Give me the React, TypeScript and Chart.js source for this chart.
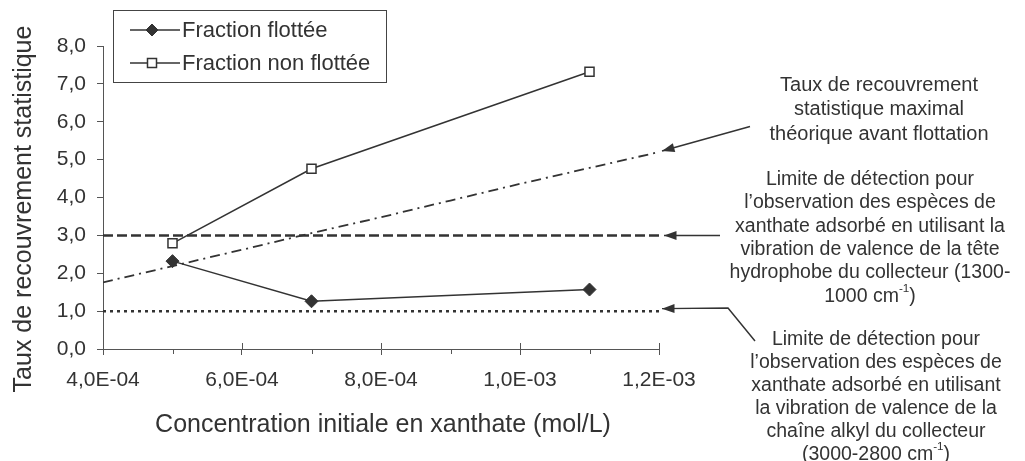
import React, { useEffect, useRef } from 'react';
import { Chart, registerables } from 'chart.js';

Chart.register(...registerables);

// ---- data ----
const concentrations = [5e-4, 7e-4, 1.1e-3];
const fractionFlottee = [2.32, 1.26, 1.57];
const fractionNonFlottee = [2.79, 4.76, 7.32];

const theoryX = [4e-4, 5e-4, 6e-4, 7e-4, 8e-4, 9e-4, 1.0e-3, 1.1e-3, 1.2e-3];
const theoryY = [1.76, 2.19, 2.62, 3.06, 3.48, 3.92, 4.36, 4.78, 5.2];

const limitX = [4e-4, 1.2e-3];
const limitTete = [3.0, 3.0];
const limitAlkyl = [1.0, 1.0];

const xTickValues = [4e-4, 6e-4, 8e-4, 1.0e-3, 1.2e-3];
const xTickLabels = ['4,0E-04', '6,0E-04', '8,0E-04', '1,0E-03', '1,2E-03'];
const xMinorTicks = [5e-4, 7e-4, 9e-4, 1.1e-3];
const yTickValues = [0, 1, 2, 3, 4, 5, 6, 7, 8];
const yTickLabels = ['0,0', '1,0', '2,0', '3,0', '4,0', '5,0', '6,0', '7,0', '8,0'];

const seriesNames = ['Fraction flottée', 'Fraction non flottée'];
const xTitle = 'Concentration initiale en xanthate (mol/L)';
const yTitle = 'Taux de recouvrement statistique';

const noteTheory = ['Taux de recouvrement', 'statistique maximal', 'théorique avant flottation'];
const noteTete = [
  'Limite de détection pour',
  'l’observation des espèces de',
  'xanthate adsorbé en utilisant la',
  'vibration de valence de la tête',
  'hydrophobe du collecteur (1300-',
  '1000 cm^-1^)',
];
const noteAlkyl = [
  'Limite de détection pour',
  'l’observation des espèces de',
  'xanthate adsorbé en utilisant',
  'la vibration de valence de la',
  'chaîne alkyl du collecteur',
  '(3000-2800 cm^-1^)',
];

const FONT = '"Liberation Sans", Arial, Helvetica, sans-serif';
const INK = '#333333';
const AXIS = '#555555';

function drawRichLine(ctx: CanvasRenderingContext2D, line: string, cx: number, cy: number, size: number) {
  const parts = line.split('^');
  const supSize = size * 0.6;
  let total = 0;
  const widths = parts.map((p, i) => {
    ctx.font = `${i % 2 ? supSize : size}px ${FONT}`;
    const w = ctx.measureText(p).width;
    total += w;
    return w;
  });
  let x = cx - total / 2;
  ctx.textAlign = 'left';
  ctx.textBaseline = 'middle';
  parts.forEach((p, i) => {
    const sup = i % 2 === 1;
    ctx.font = `${sup ? supSize : size}px ${FONT}`;
    ctx.fillText(p, x, sup ? cy - size * 0.38 : cy);
    x += widths[i];
  });
}

function drawArrow(ctx: CanvasRenderingContext2D, pts: number[][]) {
  ctx.beginPath();
  ctx.moveTo(pts[0][0], pts[0][1]);
  for (let i = 1; i < pts.length; i++) ctx.lineTo(pts[i][0], pts[i][1]);
  ctx.stroke();
  const [tx, ty] = pts[0];
  const [fx, fy] = pts[1];
  const ang = Math.atan2(ty - fy, tx - fx);
  const len = 12.5;
  const half = 4.5;
  ctx.beginPath();
  ctx.moveTo(tx, ty);
  ctx.lineTo(tx - len * Math.cos(ang) + half * Math.sin(ang), ty - len * Math.sin(ang) - half * Math.cos(ang));
  ctx.lineTo(tx - len * Math.cos(ang) - half * Math.sin(ang), ty - len * Math.sin(ang) + half * Math.cos(ang));
  ctx.closePath();
  ctx.fill();
}

const decorPlugin = {
  id: 'decor',
  afterDraw(chart: any) {
    const ctx: CanvasRenderingContext2D = chart.ctx;
    const xs = chart.scales.x;
    const ys = chart.scales.y;
    const area = chart.chartArea;
    ctx.save();

    // tick marks: minor outward, major crossing inward
    ctx.strokeStyle = AXIS;
    ctx.lineWidth = 1;
    ctx.beginPath();
    xMinorTicks.forEach((v) => {
      const px = Math.round(xs.getPixelForValue(v)) + 0.5;
      ctx.moveTo(px, area.bottom);
      ctx.lineTo(px, area.bottom + 5);
    });
    xTickValues.forEach((v) => {
      const px = Math.round(xs.getPixelForValue(v)) + 0.5;
      ctx.moveTo(px, area.bottom - 6);
      ctx.lineTo(px, area.bottom);
    });
    ctx.stroke();

    ctx.fillStyle = INK;
    // axis titles
    ctx.font = `25px ${FONT}`;
    ctx.textAlign = 'center';
    ctx.textBaseline = 'middle';
    ctx.fillText(xTitle, 383, 425);
    ctx.save();
    ctx.translate(24, 209);
    ctx.rotate(-Math.PI / 2);
    ctx.fillText(yTitle, 0, 0);
    ctx.restore();

    // legend
    ctx.strokeStyle = '#444';
    ctx.lineWidth = 1;
    ctx.strokeRect(113.5, 10.5, 273, 72);
    const rows = [30, 63];
    chart.data.datasets.slice(0, 2).forEach((ds: any, i: number) => {
      const y = rows[i];
      ctx.strokeStyle = ds.borderColor;
      ctx.lineWidth = ds.borderWidth;
      ctx.beginPath();
      ctx.moveTo(130, y);
      ctx.lineTo(180, y);
      ctx.stroke();
      ctx.fillStyle = ds.pointBackgroundColor;
      ctx.strokeStyle = ds.pointBorderColor;
      ctx.lineWidth = ds.pointBorderWidth;
      if (ds.pointStyle === 'rectRot') {
        ctx.beginPath();
        ctx.moveTo(152, y - 6);
        ctx.lineTo(158, y);
        ctx.lineTo(152, y + 6);
        ctx.lineTo(146, y);
        ctx.closePath();
        ctx.fill();
        ctx.stroke();
      } else {
        ctx.fillRect(147.5, y - 4.5, 9, 9);
        ctx.strokeRect(147.5, y - 4.5, 9, 9);
      }
      ctx.fillStyle = INK;
      ctx.font = `22px ${FONT}`;
      ctx.textAlign = 'left';
      ctx.textBaseline = 'middle';
      ctx.fillText(ds.label, 182, y + 1);
    });

    // notes
    ctx.fillStyle = INK;
    noteTheory.forEach((l, i) => drawRichLine(ctx, l, 879, 85 + i * 24.5, 20));
    noteTete.forEach((l, i) => drawRichLine(ctx, l, 870, 179.5 + i * 23.4, 19.5));
    noteAlkyl.forEach((l, i) => drawRichLine(ctx, l, 876, 339.5 + i * 23, 19.5));

    // arrows
    ctx.strokeStyle = INK;
    ctx.fillStyle = INK;
    ctx.lineWidth = 1.5;
    const tipX = xs.getPixelForValue(limitX[1]) + 3;
    const yTheory = ys.getPixelForValue(theoryY[theoryY.length - 1]);
    drawArrow(ctx, [[tipX, yTheory - 1], [750, 126.5]]);
    const yTete = ys.getPixelForValue(limitTete[1]);
    drawArrow(ctx, [[tipX + 2, yTete], [720, yTete]]);
    const yAlkyl = ys.getPixelForValue(limitAlkyl[1]) - 2.5;
    drawArrow(ctx, [[tipX, yAlkyl], [728, yAlkyl - 0.5], [755, 341]]);

    ctx.restore();
  },
};

export default function App() {
  const ref = useRef<HTMLCanvasElement | null>(null);
  useEffect(() => {
    if (!ref.current) return;
    const tickFont = { family: FONT, size: 21 };
    const chart = new Chart(ref.current, {
      type: 'line',
      data: {
        datasets: [
          {
            label: seriesNames[0],
            data: concentrations.map((x, i) => ({ x, y: fractionFlottee[i] })),
            borderColor: INK,
            borderWidth: 1.5,
            pointStyle: 'rectRot',
            pointRadius: 6.5,
            pointBackgroundColor: INK,
            pointBorderColor: INK,
            pointBorderWidth: 1,
            tension: 0,
          },
          {
            label: seriesNames[1],
            data: concentrations.map((x, i) => ({ x, y: fractionNonFlottee[i] })),
            borderColor: INK,
            borderWidth: 1.5,
            pointStyle: 'rect',
            pointRadius: 6.4,
            pointBackgroundColor: '#ffffff',
            pointBorderColor: INK,
            pointBorderWidth: 1.5,
            tension: 0,
          },
          {
            label: 'théorique',
            data: theoryX.map((x, i) => ({ x, y: theoryY[i] })),
            borderColor: INK,
            borderWidth: 1.8,
            borderDash: [10, 5, 2, 5],
            pointRadius: 0,
            tension: 0,
          },
          {
            label: 'limite tête',
            data: limitX.map((x, i) => ({ x, y: limitTete[i] })),
            borderColor: INK,
            borderWidth: 2.5,
            borderDash: [10, 4],
            pointRadius: 0,
          },
          {
            label: 'limite alkyl',
            data: limitX.map((x, i) => ({ x, y: limitAlkyl[i] })),
            borderColor: INK,
            borderWidth: 2.5,
            borderDash: [3, 4],
            pointRadius: 0,
          },
        ],
      },
      options: {
        animation: false,
        responsive: false,
        layout: { padding: { top: 46, right: 366, left: 0, bottom: 0 } },
        plugins: { legend: { display: false }, tooltip: { enabled: false } },
        scales: {
          x: {
            type: 'linear',
            min: 4e-4,
            max: 1.2e-3,
            afterBuildTicks: (s: any) => {
              s.ticks = xTickValues.map((v) => ({ value: v }));
            },
            afterFit: (s: any) => {
              s.height = 112;
            },
            ticks: {
              callback: (_v: any, i: number) => xTickLabels[i],
              font: tickFont,
              color: INK,
              padding: 13,
              maxRotation: 0,
              autoSkip: false,
            },
            grid: { drawOnChartArea: false, tickLength: 6, color: AXIS },
            border: { color: AXIS },
          },
          y: {
            type: 'linear',
            min: 0,
            max: 8,
            afterBuildTicks: (s: any) => {
              s.ticks = yTickValues.map((v) => ({ value: v }));
            },
            afterFit: (s: any) => {
              s.width = 103;
            },
            ticks: {
              callback: (_v: any, i: number) => yTickLabels[i],
              font: tickFont,
              color: INK,
              padding: 11,
              autoSkip: false,
            },
            grid: { drawOnChartArea: false, tickLength: 6, color: AXIS },
            border: { color: AXIS },
          },
        },
      } as any,
      plugins: [decorPlugin],
    });
    return () => chart.destroy();
  }, []);
  return (
    <div style={{ position: 'fixed', left: 0, top: 0, width: 1025, height: 461, background: '#fff' }}>
      <canvas ref={ref} width={1025} height={461} style={{ display: 'block' }} />
    </div>
  );
}
